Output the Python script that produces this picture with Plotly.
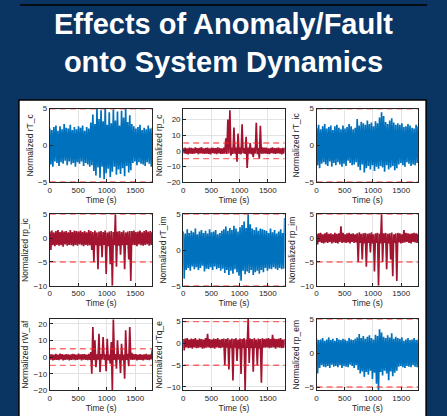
import numpy as np
import plotly.graph_objects as go
from plotly.subplots import make_subplots

# Sample period of the plotted records (s)
DT = 18.0

# Normalised residual records (one value per sample)
rT_c = [2.3,-2.6,2.1,-2.9,2.5,-2.2,2.7,-2.4,2.0,-2.8,
        2.6,-2.3,2.2,-2.5,2.9,-2.1,2.4,-2.7,2.3,-2.2,
        2.8,-2.6,2.1,-2.4,2.5,-2.9,2.2,-2.3,2.6,-2.5,
        2.4,-2.2,2.7,-2.8,2.0,-2.4,2.5,-2.6,2.3,-2.9,
        3.1,-2.7,4.2,-3.5,2.9,-4.1,5.0,-3.0,3.6,-4.4,
        4.8,-2.9,3.3,-4.6,5.0,-3.8,2.8,-3.2,4.5,-4.3,
        3.0,-3.6,4.9,-2.9,3.4,-4.0,4.6,-3.3,2.7,-3.9,
        4.7,-3.1,3.8,-4.2,5.0,-2.8,3.2,-3.7,4.1,-3.4,
        2.9,
        -2.4,2.6,-2.2,2.3,-2.7,2.5,-2.3,2.8,-2.5,2.1,
        -2.6,2.4,-2.8,2.2,-2.3,2.7,-2.5,2.3,-2.9,2.4]

rp_c = [1.8,-1.6,2.1,-1.9,1.5,-2.2,2.0,-1.7,1.9,-2.0,
        1.6,-1.8,2.2,-1.5,1.7,-2.1,1.9,-1.6,2.3,-1.8,
        1.5,-2.0,1.8,-1.7,2.1,-1.9,1.6,-2.2,2.0,-1.5,
        1.9,-1.8,1.7,-2.1,2.2,-1.6,1.8,-2.0,1.5,-1.9,
        2.0,-1.8,8.0,-2.0,20.0,-1.7,26.0,-3.0,1.9,-2.0,
        15.0,-1.8,2.1,-7.0,11.0,-1.9,2.0,-2.2,17.0,-1.6,
        1.8,-2.0,9.0,-11.0,2.1,-1.8,5.0,-2.2,1.9,-4.0,
        2.0,-1.7,18.0,-2.1,1.8,-5.0,16.0,-1.9,2.2,-1.8,
        2.0,
        -1.7,2.0,-1.9,1.6,-2.1,1.8,-1.5,2.2,-1.8,1.7,
        -2.0,1.9,-1.6,2.1,-1.8,1.5,-2.2,1.9,-1.7,2.0]

rT_ic = [2.4,-2.7,2.8,-3.1,2.2,-2.5,2.6,-2.3,2.9,-2.6,
         2.3,-2.8,2.5,-2.2,2.7,-2.9,2.1,-2.4,2.6,-2.7,
         2.8,-2.3,2.4,-2.6,2.2,-2.9,2.7,-2.5,2.3,-2.8,
         2.5,-2.1,2.9,-2.4,2.6,-2.7,2.2,-2.6,2.4,-2.3,
         3.6,-2.9,2.7,-3.4,3.2,-2.6,3.0,-3.7,2.8,-3.1,
         3.4,-2.8,2.9,-3.3,3.1,-2.7,2.6,-3.5,3.3,-2.9,
         3.0,-3.2,3.8,-2.8,4.5,-3.0,4.0,-3.6,3.2,-2.7,
         2.9,-3.3,3.4,-3.0,3.7,-2.8,3.1,-3.4,2.8,-3.1,
         3.0,
         -2.6,2.8,-2.4,3.0,-2.7,2.5,-2.9,2.6,-2.3,2.9,
         -2.5,2.7,-2.8,2.4,-2.6,2.3,-2.7,2.8,-2.4,2.6]

rp_ic = [1.4,-2.5,1.6,-1.5,1.2,-1.7,1.5,-1.4,1.7,-1.6,
         1.3,-1.5,1.6,-1.8,1.4,-1.3,1.5,-1.6,1.2,-1.4,
         1.7,-1.5,1.3,-1.7,1.6,-1.4,1.5,-1.6,1.4,-1.3,
         1.6,-1.5,1.3,-1.7,1.5,-1.4,1.2,-1.6,1.7,-1.5,
         1.5,-2.5,1.3,-5.0,1.6,-1.5,1.2,-6.5,1.4,-1.6,
         1.5,-4.0,1.3,-1.4,1.6,-7.5,1.2,-1.7,1.4,-5.5,
         1.5,-10.0,1.3,-1.5,5.0,-6.0,1.4,-1.6,1.5,-3.5,
         1.3,-1.5,1.6,-6.5,1.2,-1.4,1.4,-4.5,1.5,-9.0,
         1.5,
         -1.4,1.6,-1.5,1.3,-1.7,1.4,-1.3,1.6,-1.5,1.2,
         -1.6,1.5,-1.4,1.7,-1.3,1.4,-1.6,1.5,-1.4,1.3]

rT_im = [2.6,-4.0,2.3,-2.8,2.9,-2.5,2.4,-2.9,2.7,-2.3,
         2.5,-2.7,3.0,-2.4,2.2,-2.8,2.6,-2.5,2.8,-2.2,
         2.4,-3.0,2.7,-2.6,2.3,-2.7,2.9,-2.4,2.5,-2.8,
         2.6,-2.3,2.8,-2.7,2.2,-2.5,2.4,-2.9,2.7,-2.6,
         2.9,-3.2,3.3,-2.8,2.7,-3.5,3.1,-2.9,2.8,-3.3,
         3.4,-2.7,3.0,-3.1,2.6,-3.6,3.2,-4.3,3.5,-2.9,
         4.0,-3.4,3.1,-3.0,5.0,-3.2,3.6,-2.8,3.0,-3.5,
         2.8,-3.1,3.2,-2.9,2.7,-3.3,3.0,-2.8,2.9,-3.1,
         2.8,
         -2.5,2.7,-2.9,2.4,-2.6,3.0,-2.7,2.5,-2.4,2.8,
         -2.6,2.3,-2.8,2.6,-2.5,2.9,-2.7,2.4,-2.6,4.5]

rp_im = [0.9,-1.3,1.0,-0.8,1.1,-1.0,0.8,-1.1,1.0,-0.9,
         1.2,-1.0,0.9,-0.8,1.0,-1.1,0.8,-0.9,1.1,-1.0,
         0.9,-1.1,1.0,-0.8,2.5,-1.0,1.1,-0.9,0.8,-1.0,
         1.0,-0.9,1.1,-1.1,0.9,-0.8,1.0,-1.0,0.8,-0.9,
         1.0,-5.0,1.2,-1.0,0.9,-4.5,1.0,-1.1,1.1,-6.0,
         0.9,-1.0,1.0,-3.0,1.2,-1.1,0.8,-7.0,1.0,-1.0,
         1.1,-10.0,0.9,-1.1,5.0,-5.0,1.0,-1.0,1.1,-6.5,
         0.9,-1.1,1.0,-4.5,1.2,-8.0,0.8,-1.0,1.0,-9.0,
         1.1,
         -0.9,1.0,-1.1,0.8,-1.0,1.7,-0.9,1.1,-0.8,1.0,
         -1.0,0.9,-1.1,1.0,-0.8,1.1,-0.9,1.0,-1.0,0.9]

rW_af = [1.8,-1.5,1.6,-2.0,1.4,-1.7,1.9,-1.6,1.5,-1.8,
         2.1,-1.4,1.7,-1.9,1.5,-1.6,1.8,-1.5,1.6,-2.0,
         1.4,-1.7,1.9,-1.5,1.7,-1.8,1.5,-1.6,2.0,-1.4,
         1.6,-1.9,1.8,-1.5,1.7,-1.6,1.4,-1.8,1.9,-1.7,
         3.0,-10.0,18.0,-1.8,10.0,-6.0,1.7,-1.6,14.0,-9.0,
         1.8,-1.5,12.0,-1.7,1.6,-8.5,11.0,-1.9,1.5,-4.0,
         9.0,-20.0,22.5,-1.6,1.8,-7.0,10.0,-1.5,1.7,-9.5,
         8.0,-1.8,1.6,-13.0,16.0,-1.7,1.9,-5.5,18.0,-1.6,
         2.5,
         -1.6,1.8,-1.5,1.7,-1.9,1.4,-1.6,1.8,-1.7,1.5,
         -2.0,1.6,-1.5,1.9,-1.7,1.5,-1.8,1.6,-1.4,4.5]

rTq_e = [1.0,-1.6,1.1,-0.9,1.2,-1.1,0.9,-1.0,1.1,-1.2,
         1.0,-0.9,1.2,-1.1,0.8,-1.0,1.1,-0.9,1.0,-1.2,
         0.9,-1.1,1.2,-1.0,2.2,-0.9,1.0,-1.1,0.9,-1.0,
         1.1,-1.2,1.0,-0.9,1.2,-1.0,0.9,-1.1,1.0,-0.9,
         1.1,-5.0,1.0,-1.0,1.2,-6.0,0.9,-1.1,1.1,-8.5,
         1.0,-1.0,1.2,-4.0,0.9,-1.2,1.1,-7.0,1.0,-1.1,
         1.2,-10.8,0.9,-1.0,5.6,-4.5,1.1,-1.1,1.0,-6.5,
         1.2,-1.0,0.9,-5.0,1.1,-1.2,1.0,-9.0,1.2,-1.0,
         1.0,
         -1.0,1.1,-0.9,1.2,-1.1,1.0,-1.0,2.0,-0.9,1.1,
         -1.2,1.0,-0.9,1.1,-1.0,1.2,-1.1,0.9,-1.0,1.0]

rp_em = [2.1,-3.0,1.9,-2.2,2.0,-1.8,2.2,-2.0,1.8,-2.1,
         2.0,-1.9,2.3,-2.2,1.9,-1.7,2.1,-2.0,1.8,-1.9,
         2.2,-2.1,2.0,-1.8,1.9,-2.2,2.1,-1.9,2.0,-2.0,
         1.8,-2.1,2.2,-1.7,2.0,-1.9,1.9,-2.2,2.1,-1.8,
         2.3,-2.5,2.8,-3.0,2.2,-2.7,2.5,-3.5,2.1,-2.8,
         2.4,-3.2,2.6,-2.6,2.2,-3.8,2.0,-2.9,2.7,-4.5,
         2.5,-5.5,3.5,-2.8,3.0,-3.3,2.4,-2.6,2.2,-3.0,
         2.6,-4.0,2.3,-2.7,2.9,-3.4,2.1,-2.9,2.4,-2.6,
         2.2,
         -2.0,2.1,-1.9,2.3,-2.1,1.8,-2.2,2.0,-1.9,2.2,
         -2.0,1.9,-2.1,2.0,-1.8,2.2,-2.0,1.9,-2.1,2.0]

# Anomaly window (s) and detection thresholds
ANOMALY_START, ANOMALY_END = 720, 1450
THRESHOLDS = [5, -5]
TIME_TICKS = [0, 500, 1000, 1500]

BLUE = "#0072BD"
CRIMSON = "#A2142F"

panels = [
    ("rT_c", rT_c, BLUE, [-5, 5], [-5, 0, 5]),
    ("rp_c", rp_c, CRIMSON, [-20, 27], [-20, -10, 0, 10, 20]),
    ("rT_ic", rT_ic, BLUE, [-5, 5], [-5, 0, 5]),
    ("rp_ic", rp_ic, CRIMSON, [-10, 5], [-10, -5, 0, 5]),
    ("rT_im", rT_im, BLUE, [-5, 5], [-5, 0, 5]),
    ("rp_im", rp_im, CRIMSON, [-10, 5], [-10, -5, 0, 5]),
    ("rW_af", rW_af, CRIMSON, [-20, 22.8], [-20, -10, 0, 10, 20]),
    ("rTq_e", rTq_e, CRIMSON, [-10.8, 5.6], [-10, -5, 0, 5]),
    ("rp_em", rp_em, BLUE, [-5.5, 5], [-5, 0, 5]),
]

W, H = 447, 416
col_px = [(48, 151), (182, 284), (316, 418)]
row_px = [(107, 182), (215, 288), (322, 395)]

fig = make_subplots(rows=3, cols=3)

FONT = "Liberation Sans, Arial, sans-serif"
TXT = "#262626"

for k, (name, vals, color, yr, yt) in enumerate(panels):
    r, c = divmod(k, 3)
    t = np.arange(len(vals)) * DT
    fig.add_trace(go.Scatter(x=t, y=vals, mode="lines",
                             line=dict(color=color, width=1.7),
                             showlegend=False, hoverinfo="skip"),
                  row=r + 1, col=c + 1)
    for th in THRESHOLDS:
        fig.add_trace(go.Scatter(x=[0, (len(vals) - 1) * DT], y=[th, th], mode="lines",
                                 line=dict(color="rgba(255,30,30,0.65)", width=1.4, dash="6px,4px"),
                                 showlegend=False, hoverinfo="skip"),
                      row=r + 1, col=c + 1)
    idx = "" if k == 0 else str(k + 1)
    x0, x1 = col_px[c]
    y0, y1 = row_px[r]
    fig.update_layout(**{
        f"xaxis{idx}": dict(
            domain=[x0 / W, x1 / W], range=[0, 1800], tickvals=TIME_TICKS,
            showline=True, mirror=True, linecolor=TXT, linewidth=1,
            ticks="inside", ticklen=3, tickcolor=TXT,
            showgrid=True, gridcolor="#e3e3e3", gridwidth=1, zeroline=False,
            tickfont=dict(family=FONT, size=8, color=TXT),
            title=dict(text="Time (s)", font=dict(family=FONT, size=8.5, color=TXT), standoff=2),
        ),
        f"yaxis{idx}": dict(
            domain=[1 - y1 / H, 1 - y0 / H], range=yr, tickvals=yt,
            showline=True, mirror=True, linecolor=TXT, linewidth=1,
            ticks="inside", ticklen=3, tickcolor=TXT,
            showgrid=True, gridcolor="#e3e3e3", gridwidth=1, zeroline=False,
            tickfont=dict(family=FONT, size=8, color=TXT),
            title=dict(text=f"Normalized {name}", font=dict(family=FONT, size=8.5, color=TXT), standoff=3),
        ),
    })
    # shaded anomaly window
    fig.add_shape(type="rect", xref=f"x{idx}", yref=f"y{idx} domain",
                  x0=ANOMALY_START, x1=ANOMALY_END, y0=0, y1=1,
                  fillcolor="#b5b5b5", line=dict(width=0), layer="below")

# white poster panel behind the figure grid
fig.add_shape(type="rect", xref="paper", yref="paper",
              x0=17 / W, x1=426 / W, y0=-0.05, y1=1 - 98 / H,
              fillcolor="white", line=dict(color="black", width=1.5), layer="below")
# bottom edge of the panel above
fig.add_shape(type="line", xref="paper", yref="paper",
              x0=18 / W, x1=427 / W, y0=1 - 1 / H, y1=1 - 1 / H,
              line=dict(color="black", width=1.5), layer="below")

fig.add_annotation(text="Effects of Anomaly/Fault<br>onto System Dynamics",
                   xref="paper", yref="paper", x=222 / W, y=1 - 40 / H,
                   xanchor="center", yanchor="middle", showarrow=False,
                   font=dict(family=FONT, size=29, color="white", weight="bold"))

fig.update_layout(width=W, height=H, margin=dict(l=0, r=0, t=0, b=0),
                  paper_bgcolor="#0a3462", plot_bgcolor="white")

fig.write_html("out.html")
